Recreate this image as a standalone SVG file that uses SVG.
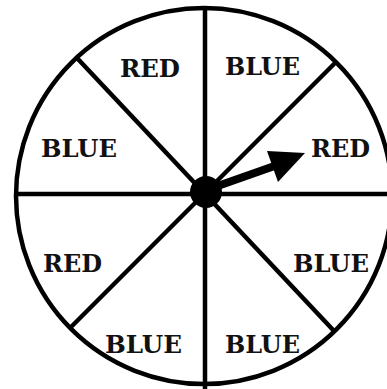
<svg xmlns="http://www.w3.org/2000/svg" width="387" height="389" viewBox="0 0 387 389">
<style>
.ln{stroke:#000;stroke-width:4.5;fill:none}
.lb{font-family:"DejaVu Serif","Liberation Serif",serif;font-weight:bold;font-size:25px;fill:#111}
</style>
<rect width="387" height="389" fill="#fff"/>
<g id="wheel">
<circle class="ln" cx="204" cy="196" r="188" stroke-width="4.5"/>
</g>
<g id="connectors">
<line class="ln" x1="205" y1="8" x2="205" y2="389"/>
<line class="ln" x1="14" y1="194" x2="387" y2="194"/>
<line class="ln" x1="77" y1="58" x2="335" y2="332"/>
<line class="ln" x1="335" y1="63" x2="70" y2="328"/>
</g>
<g id="hub">
<circle cx="206" cy="192" r="16" fill="#000"/>
</g>
<g id="arrow">
<line x1="212" y1="188" x2="283" y2="163" stroke="#000" stroke-width="8"/>
<polygon points="305,153 267,151 278,182" fill="#000"/>
</g>
<g id="s1"><text class="lb" x="120" y="77" textLength="60" lengthAdjust="spacingAndGlyphs">RED</text></g>
<g id="s2"><text class="lb" x="225" y="75" textLength="75" lengthAdjust="spacingAndGlyphs">BLUE</text></g>
<g id="s3"><text class="lb" x="41" y="157" textLength="76" lengthAdjust="spacingAndGlyphs">BLUE</text></g>
<g id="s4"><text class="lb" x="311" y="157" textLength="59" lengthAdjust="spacingAndGlyphs">RED</text></g>
<g id="s5"><text class="lb" x="43" y="272" textLength="59" lengthAdjust="spacingAndGlyphs">RED</text></g>
<g id="s6"><text class="lb" x="293" y="272" textLength="76" lengthAdjust="spacingAndGlyphs">BLUE</text></g>
<g id="s7"><text class="lb" x="105" y="353" textLength="77" lengthAdjust="spacingAndGlyphs">BLUE</text></g>
<g id="s8"><text class="lb" x="225" y="353" textLength="75" lengthAdjust="spacingAndGlyphs">BLUE</text></g>
</svg>
